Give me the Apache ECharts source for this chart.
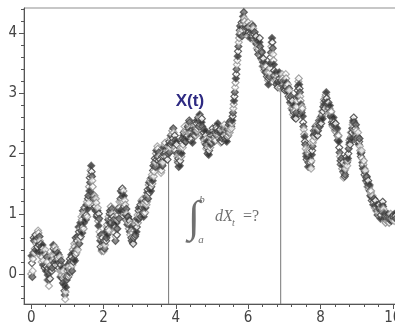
<!DOCTYPE html>
<html>
<head>
<meta charset="utf-8">
<script src="https://cdn.jsdelivr.net/npm/echarts@6/dist/echarts.min.js"></script>
<style>
html, body { margin: 0; padding: 0; background: #fff; }
#chart { width: 395px; height: 327px; }
</style>
</head>
<body>
<div id="chart"></div>
<script>
// path X(t): pathValues at t = i*dt, pathValuesMid at t = i*dt + dt/2
const dt = 0.02;
const pathValues = [
  0.0, 0.18, 0.05, 0.35, 0.55, 0.42, 0.65, 0.5, 0.38, 0.6, 0.68, 0.48, 0.55, 0.35, 0.45, 0.28, 0.42, 0.22, 0.35, 0.15, 0.32, 0.12, 0.2, -0.02, -0.1,
  0.05, -0.08, 0.15, 0.25, 0.1, 0.3, 0.42, 0.25, 0.38, 0.22, 0.4, 0.28, 0.15, 0.32, 0.18, 0.05, 0.15, -0.02, 0.1, -0.15, -0.05, -0.28, -0.42, -0.22, -0.1,
  0.05, -0.05, 0.12, 0.02, 0.2, 0.1, 0.28, 0.15, 0.35, 0.25, 0.45, 0.32, 0.52, 0.42, 0.62, 0.5, 0.7, 0.58, 0.85, 0.72, 0.9, 0.78, 1.0, 0.85, 0.95,
  1.1, 0.98, 1.2, 1.08, 1.3, 1.45, 1.6, 1.72, 1.8, 1.62, 1.45, 1.25, 1.15, 1.25, 1.05, 1.18, 0.98, 1.1, 0.8, 0.92, 0.62, 0.45, 0.58, 0.4, 0.52,
  0.38, 0.55, 0.48, 0.7, 0.6, 0.82, 0.75, 0.95, 0.85, 1.05, 1.12, 0.92, 1.0, 0.8, 0.9, 0.68, 0.78, 0.62, 0.85, 0.75, 0.98, 1.1, 1.2, 1.05, 1.38,
  1.25, 1.42, 1.2, 1.3, 1.05, 1.15, 0.9, 1.0, 0.82, 0.95, 0.75, 0.88, 0.65, 0.78, 0.55, 0.68, 0.5, 0.62, 0.78, 0.65, 0.88, 0.78, 0.98, 0.9, 1.1,
  0.98, 1.15, 1.05, 1.2, 1.02, 1.15, 1.0, 1.18, 1.1, 1.28, 1.2, 1.4, 1.32, 1.52, 1.42, 1.58, 1.45, 1.65, 1.55, 1.8, 1.7, 1.92, 1.85, 2.05, 1.95,
  2.08, 1.88, 1.95, 1.75, 1.85, 1.72, 1.95, 1.85, 2.1, 2.0, 2.18, 2.02, 1.95, 2.1, 2.0, 2.05, 2.2, 2.1, 2.3, 2.18, 2.38, 2.25, 2.35, 2.15, 2.22,
  2.05, 2.15, 1.95, 1.85, 1.78, 1.95, 1.88, 2.1, 2.0, 2.25, 2.15, 2.35, 2.45, 2.28, 2.2, 2.38, 2.3, 2.5, 2.4, 2.52, 2.35, 2.22, 2.35, 2.18, 2.32,
  2.45, 2.3, 2.48, 2.35, 2.55, 2.42, 2.6, 2.5, 2.65, 2.52, 2.45, 2.58, 2.38, 2.25, 2.4, 2.18, 2.3, 2.08, 2.2, 2.0, 2.15, 2.05, 2.28, 2.15, 2.35,
  2.25, 2.42, 2.3, 2.2, 2.35, 2.22, 2.45, 2.32, 2.5, 2.38, 2.25, 2.4, 2.18, 2.32, 2.25, 2.42, 2.3, 2.48, 2.35, 2.22, 2.38, 2.28, 2.45, 2.35, 2.52,
  2.4, 2.55, 2.42, 2.55, 2.68, 2.82, 2.95, 3.1, 3.25, 3.4, 3.55, 3.7, 3.85, 3.98, 4.12, 4.0, 4.18, 4.05, 4.28, 4.35, 4.2, 4.08, 4.15, 3.98, 4.1,
  4.18, 4.02, 4.1, 3.92, 4.05, 4.15, 3.98, 4.08, 3.9, 4.02, 3.85, 3.95, 3.75, 3.88, 3.65, 3.8, 3.92, 3.7, 3.58, 3.68, 3.45, 3.58, 3.38, 3.5, 3.35,
  3.45, 3.28, 3.35, 3.15, 3.28, 3.42, 3.6, 3.78, 3.92, 3.75, 3.55, 3.38, 3.22, 3.35, 3.15, 3.28, 3.1, 3.25, 3.35, 3.18, 3.1, 3.22, 3.32, 3.2, 3.08,
  3.2, 3.05, 3.32, 3.18, 3.05, 3.15, 2.95, 3.05, 2.85, 2.95, 2.75, 2.88, 2.65, 2.8, 2.6, 2.72, 2.58, 2.78, 2.95, 3.12, 3.25, 3.08, 2.95, 2.82, 2.68,
  2.75, 2.52, 2.4, 2.28, 2.15, 2.0, 1.9, 2.05, 1.78, 1.92, 2.05, 1.85, 1.75, 1.98, 2.12, 2.22, 2.38, 2.28, 2.45, 2.32, 2.48, 2.3, 2.42, 2.55, 2.45,
  2.6, 2.5, 2.7, 2.58, 2.78, 2.9, 2.75, 2.95, 3.02, 2.85, 2.72, 2.85, 2.68, 2.8, 2.62, 2.7, 2.52, 2.45, 2.6, 2.48, 2.38, 2.5, 2.35, 2.42, 2.22,
  2.3, 2.1, 1.95, 1.82, 1.92, 1.75, 1.85, 1.6, 1.72, 1.65, 1.82, 1.95, 1.8, 1.92, 2.08, 2.22, 2.15, 2.35, 2.25, 2.42, 2.52, 2.6, 2.45, 2.35, 2.48,
  2.3, 2.2, 2.35, 2.15, 2.25, 2.05, 1.95, 2.05, 1.85, 1.75, 1.88, 1.65, 1.72, 1.55, 1.62, 1.45, 1.55, 1.4, 1.48, 1.3, 1.38, 1.22, 1.3, 1.15, 1.25,
  1.1, 1.22, 1.05, 1.15, 0.98, 1.08, 1.15, 1.0, 0.92, 1.05, 1.12, 1.2, 1.08, 1.0, 0.92, 0.85, 0.95, 0.88, 1.0, 0.9, 0.85, 0.95, 1.0, 0.88, 0.95,
  0.9, 0.98, 0.88, 1.0, 0.92
];
const pathValuesMid = [
  0.3, -0.05, 0.25, 0.6, 0.35, 0.58, 0.4, 0.55, 0.45, 0.72, 0.5, 0.62, 0.3, 0.5, 0.2, 0.48, 0.15, 0.38, 0.1, 0.4, 0.05, 0.28, -0.1, 0.1, -0.2,
  0.12, 0.05, 0.3, 0.05, 0.22, 0.48, 0.18, 0.45, 0.15, 0.32, 0.2, 0.35, 0.25, 0.1, 0.28, -0.05, 0.22, 0.05, -0.08, 0.05, -0.18, -0.35, -0.3, -0.05, 0.12,
  0.15, 0.08, -0.02, 0.25, 0.05, 0.32, 0.05, 0.4, 0.2, 0.5, 0.22, 0.6, 0.35, 0.55, 0.4, 0.78, 0.5, 0.75, 0.62, 0.95, 0.68, 1.05, 0.75, 1.1, 1.0,
  0.9, 1.15, 0.95, 1.25, 1.18, 1.38, 1.52, 1.65, 1.7, 1.55, 1.32, 1.1, 1.3, 1.12, 1.25, 0.95, 1.05, 0.88, 1.0, 0.7, 0.55, 0.65, 0.38, 0.6, 0.45,
  0.5, 0.42, 0.65, 0.55, 0.78, 0.65, 0.9, 0.72, 1.0, 0.92, 0.98, 1.08, 0.85, 0.95, 0.7, 0.85, 0.55, 0.75, 0.65, 0.9, 1.05, 0.92, 1.1, 1.25, 1.2,
  1.35, 1.28, 1.38, 1.12, 1.22, 0.98, 1.08, 0.88, 0.95, 0.85, 0.9, 0.7, 0.82, 0.6, 0.72, 0.52, 0.6, 0.72, 0.62, 0.82, 0.7, 0.92, 0.85, 1.05, 0.95,
  1.08, 0.95, 1.22, 1.1, 1.25, 0.95, 1.1, 1.02, 1.22, 1.15, 1.35, 1.25, 1.48, 1.35, 1.55, 1.38, 1.6, 1.5, 1.72, 1.62, 1.85, 1.78, 2.0, 1.9, 2.12,
  1.95, 2.02, 1.82, 1.9, 1.68, 1.82, 1.8, 2.02, 1.95, 2.15, 2.08, 1.92, 2.05, 1.9, 2.12, 2.15, 2.02, 2.25, 2.15, 2.32, 2.2, 2.42, 2.2, 2.3, 2.1,
  2.2, 2.0, 1.88, 1.92, 1.85, 1.8, 2.02, 1.95, 2.18, 2.1, 2.3, 2.22, 2.38, 2.2, 2.32, 2.25, 2.45, 2.35, 2.55, 2.42, 2.28, 2.4, 2.25, 2.4, 2.38,
  2.38, 2.42, 2.3, 2.5, 2.38, 2.55, 2.45, 2.62, 2.48, 2.6, 2.52, 2.45, 2.3, 2.35, 2.22, 2.38, 2.15, 2.25, 2.1, 2.1, 1.98, 2.2, 2.1, 2.3, 2.2,
  2.35, 2.28, 2.38, 2.28, 2.25, 2.4, 2.3, 2.42, 2.35, 2.3, 2.35, 2.22, 2.28, 2.2, 2.38, 2.32, 2.42, 2.38, 2.25, 2.32, 2.2, 2.4, 2.3, 2.48, 2.35,
  2.48, 2.45, 2.5, 2.62, 2.75, 2.88, 3.02, 3.18, 3.32, 3.48, 3.62, 3.78, 3.92, 4.05, 4.02, 4.1, 3.95, 4.15, 4.2, 4.25, 4.12, 4.0, 4.05, 4.08, 3.95,
  4.08, 4.12, 3.98, 4.0, 4.1, 4.05, 4.12, 3.95, 3.98, 3.9, 3.92, 3.82, 3.85, 3.72, 3.75, 3.85, 3.78, 3.62, 3.7, 3.55, 3.52, 3.45, 3.48, 3.4, 3.42,
  3.35, 3.38, 3.22, 3.25, 3.35, 3.5, 3.68, 3.85, 3.85, 3.65, 3.48, 3.3, 3.3, 3.25, 3.22, 3.18, 3.2, 3.3, 3.25, 3.08, 3.18, 3.28, 3.25, 3.12, 3.15,
  3.12, 3.2, 3.25, 3.1, 3.12, 3.02, 3.08, 2.92, 2.9, 2.82, 2.85, 2.72, 2.75, 2.68, 2.7, 2.62, 2.68, 2.88, 3.05, 3.2, 3.15, 3.02, 2.88, 2.72, 2.78,
  2.62, 2.45, 2.32, 2.2, 2.08, 1.95, 2.0, 1.88, 1.85, 2.0, 1.92, 1.78, 1.88, 2.05, 2.18, 2.3, 2.32, 2.38, 2.38, 2.42, 2.38, 2.38, 2.5, 2.48, 2.55,
  2.55, 2.62, 2.65, 2.7, 2.85, 2.82, 2.88, 2.98, 2.92, 2.78, 2.8, 2.75, 2.75, 2.7, 2.68, 2.6, 2.48, 2.55, 2.52, 2.42, 2.45, 2.4, 2.4, 2.3, 2.28,
  2.2, 2.02, 1.88, 1.88, 1.82, 1.8, 1.7, 1.68, 1.62, 1.75, 1.9, 1.85, 1.88, 2.0, 2.15, 2.18, 2.25, 2.28, 2.35, 2.48, 2.55, 2.52, 2.4, 2.42, 2.38,
  2.25, 2.28, 2.25, 2.2, 2.12, 2.0, 2.02, 1.92, 1.8, 1.82, 1.75, 1.7, 1.62, 1.6, 1.52, 1.5, 1.45, 1.45, 1.38, 1.35, 1.28, 1.28, 1.2, 1.2, 1.18,
  1.15, 1.12, 1.1, 1.05, 1.02, 1.12, 1.08, 0.95, 0.98, 1.1, 1.15, 1.12, 1.02, 0.95, 0.88, 0.9, 0.92, 0.95, 0.95, 0.88, 0.9, 0.98, 0.92, 0.92, 0.92,
  0.95, 0.92, 0.95, 0.96
];

const xMajorTicks = [0, 2, 4, 6, 8, 10];
const xMinorTicks = [0.4, 0.8, 1.2, 1.6, 2.4, 2.8, 3.2, 3.6, 4.4, 4.8, 5.2, 5.6, 6.4, 6.8, 7.2, 7.6, 8.4, 8.8, 9.2, 9.6];
const yMajorTicks = [0, 1, 2, 3, 4];
const yMinorTicks = [-0.4, -0.2, 0.2, 0.4, 0.6, 0.8, 1.2, 1.4, 1.6, 1.8, 2.2, 2.4, 2.6, 2.8, 3.2, 3.4, 3.6, 3.8, 4.2, 4.4];

// the two times a and b marked by vertical lines
const cutTimes = [3.8, 6.9];

// annotation anchors in data coordinates
const pathLabelAt = [4.39, 2.87];
const integralAt = [4.5, 0.91];

const xMin = -0.2, xMax = 10.2;
const yMin = -0.5, yMax = 4.42;

const chart = echarts.init(document.getElementById('chart'));

// mix of hollow and filled diamonds, as in the scanned plot
const pointStyles = [
  { color: '#fff', borderColor: '#8a8a8a' },
  { color: '#2a2a2a', borderColor: '#5a5a5a' },
  { color: '#fff', borderColor: '#3a3a3a' },
  { color: '#6e6e6e', borderColor: '#444' },
  { color: '#fff', borderColor: '#9a9a9a' }
];

const pathData = [];
pathValues.forEach((v, i) => {
  pathData.push([+(i * dt).toFixed(3), v]);
  if (i < pathValuesMid.length) pathData.push([+(i * dt + dt / 2).toFixed(3), pathValuesMid[i]]);
});
const pathItems = pathData.map((p, k) => ({ value: p, itemStyle: pointStyles[k % pointStyles.length] }));

const cutSeries = cutTimes.map(t => ({
  type: 'line',
  data: [[t, yMin], [t, pathValues[Math.round(t / dt)]]],
  symbol: 'none',
  lineStyle: { color: '#777', width: 1 },
  z: 1,
  silent: true
}));

const tickFont = { fontSize: 15, color: '#444', fontFamily: 'DejaVu Sans Condensed, Liberation Sans Narrow, sans-serif' };

chart.setOption({
  animation: false,
  backgroundColor: '#fff',
  grid: { left: 24, right: -5, top: 8, bottom: 23, outerBoundsMode: 'none', containLabel: false,
          show: true, borderColor: '#8f8f8f', borderWidth: 1 },
  xAxis: [
    {
      type: 'value', min: xMin, max: xMax, position: 'bottom',
      axisLine: { show: true, onZero: false, lineStyle: { color: '#555' } },
      axisTick: { show: true, length: 5, customValues: xMajorTicks, lineStyle: { color: '#555' } },
      axisLabel: Object.assign({ customValues: xMajorTicks, margin: 7 }, tickFont),
      splitLine: { show: false }
    },
    {
      type: 'value', min: xMin, max: xMax, position: 'bottom',
      axisLine: { show: false, onZero: false },
      axisTick: { show: true, length: 3, customValues: xMinorTicks, lineStyle: { color: '#555' } },
      axisLabel: { show: false },
      splitLine: { show: false }
    }
  ],
  yAxis: [
    {
      type: 'value', min: yMin, max: yMax, position: 'left',
      axisLine: { show: true, onZero: false, lineStyle: { color: '#555' } },
      axisTick: { show: true, length: 5, customValues: yMajorTicks, lineStyle: { color: '#555' } },
      axisLabel: Object.assign({ customValues: yMajorTicks, margin: 7 }, tickFont),
      splitLine: { show: false }
    },
    {
      type: 'value', min: yMin, max: yMax, position: 'left',
      axisLine: { show: false, onZero: false },
      axisTick: { show: true, length: 3, customValues: yMinorTicks, lineStyle: { color: '#555' } },
      axisLabel: { show: false },
      splitLine: { show: false }
    }
  ],
  series: cutSeries.concat([
    {
      type: 'scatter',
      data: pathItems,
      symbol: 'diamond',
      symbolSize: [7, 7],
      itemStyle: { borderWidth: 1.2 },
      large: false,
      z: 3
    }
  ])
});

// text annotations, placed from data coordinates
const lab = chart.convertToPixel({ xAxisIndex: 0, yAxisIndex: 0 }, pathLabelAt);
const ig = chart.convertToPixel({ xAxisIndex: 0, yAxisIndex: 0 }, integralAt);
const serif = 'Liberation Serif, DejaVu Serif, serif';
const grey = '#707070';

chart.setOption({
  graphic: [
    { type: 'text', x: lab[0], y: lab[1], z: 10,
      style: { text: 'X(t)', fill: '#2e2a82', font: 'bold 17px Liberation Sans, Arial, sans-serif', align: 'center', verticalAlign: 'middle' } },
    { type: 'text', x: ig[0], y: ig[1], z: 10,
      style: { text: '∫', fill: grey, font: '44px ' + serif, align: 'center', verticalAlign: 'middle' } },
    { type: 'text', x: ig[0] + 8, y: ig[1] - 19, z: 10,
      style: { text: 'b', fill: grey, font: 'italic 11px ' + serif, align: 'center', verticalAlign: 'middle' } },
    { type: 'text', x: ig[0] + 7, y: ig[1] + 21, z: 10,
      style: { text: 'a', fill: grey, font: 'italic 11px ' + serif, align: 'center', verticalAlign: 'middle' } },
    { type: 'text', x: ig[0] + 21, y: ig[1] - 2, z: 10,
      style: { text: 'dX', fill: grey, font: 'italic 16px ' + serif, align: 'left', verticalAlign: 'middle' } },
    { type: 'text', x: ig[0] + 38, y: ig[1] + 4, z: 10,
      style: { text: 't', fill: grey, font: 'italic 10px ' + serif, align: 'left', verticalAlign: 'middle' } },
    { type: 'text', x: ig[0] + 49, y: ig[1] - 2, z: 10,
      style: { text: '=?', fill: grey, font: '16px ' + serif, align: 'left', verticalAlign: 'middle' } }
  ]
});
</script>
</body>
</html>
